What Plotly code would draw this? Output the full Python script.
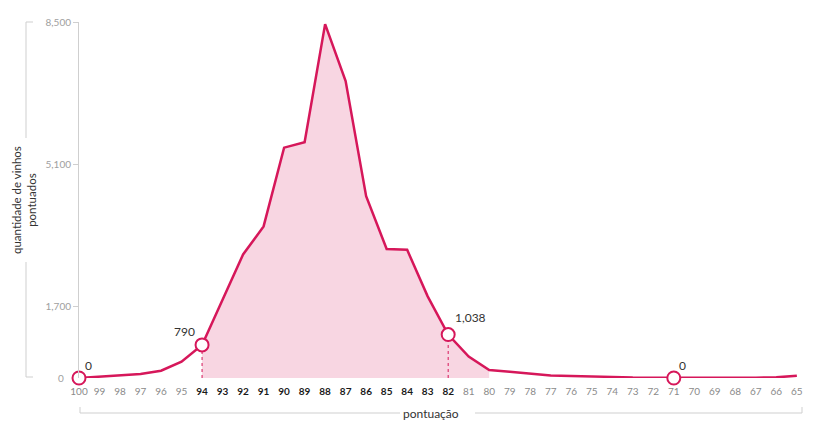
import plotly.graph_objects as go

# ---- data ----
scores = list(range(100, 64, -1))  # 100 .. 65
counts = [0, 30, 55, 95, 175, 390, 790, 1870, 2950, 3620, 5500, 5630, 8450, 7090,
          4340, 3080, 3060, 1950, 1038, 510, 190, 150, 110, 60, 50, 45, 25, 12, 8,
          0, 3, 3, 5, 8, 15, 55]
highlight_scores = [94, 93, 92, 91, 90, 89, 88, 87, 86, 85, 84, 83, 82]
fill_scores = list(range(94, 79, -1))  # 94 .. 80
marked_scores = [100, 94, 82, 71]
marked_labels = ["0", "790", "1,038", "0"]
y_ticks = [0, 1700, 5100, 8500]
y_ticktext = ["0", "1,700", "5,100", "8,500"]
y_title = "quantidade de vinhos<br>pontuados"
x_title = "pontuação"

PINK = "#d6175a"
FILL = "#f8d6e2"
FONT = "Lato"

val = dict(zip(scores, counts))

# page body has an 8px margin: work in screen pixels, convert to figure pixels
OFF = 8
SW, SH = 819, 426
W, H = SW - OFF, SH - OFF
# plot area in screen pixels
L, R, T, B = 79, 803, 22, 378

def xp(px):
    return (px - L) / (R - L)
def yp(py):
    return (B - py) / (B - T)

fig = go.Figure()

fig.add_trace(go.Scatter(
    x=fill_scores, y=[val[s] for s in fill_scores], mode="lines",
    line=dict(width=0), fill="tozeroy", fillcolor=FILL, hoverinfo="skip",
    showlegend=False))

for s in [94, 82]:
    fig.add_trace(go.Scatter(
        x=[s, s], y=[0, val[s]], mode="lines",
        line=dict(color=PINK, width=1, dash="dot"), showlegend=False,
        hoverinfo="skip"))

fig.add_trace(go.Scatter(
    x=scores, y=counts, mode="lines", line=dict(color=PINK, width=2.5),
    showlegend=False, cliponaxis=False))

fig.add_trace(go.Scatter(
    x=marked_scores, y=[val[s] for s in marked_scores], mode="markers",
    marker=dict(size=13, color="white", line=dict(color=PINK, width=2)),
    showlegend=False, cliponaxis=False))

offsets = {100: (4, 13, "left"), 94: (-18, 13, "center"), 82: (5, 17, "left"), 71: (3, 13, "left")}
for s, lab in zip(marked_scores, marked_labels):
    dx, dy, anc = offsets[s]
    fig.add_annotation(x=s, y=val[s], text=lab, showarrow=False,
                       xshift=dx, yshift=dy, xanchor=anc,
                       font=dict(family=FONT, size=12, color="#333"))

ticktext = []
for s in scores:
    if s in highlight_scores:
        ticktext.append(f"<b><span style='color:#1a1a1a'>{s}</span></b>")
    else:
        ticktext.append(str(s))

# y tick labels: the zero label sits further left (drawn separately)
y_ticktext_axis = ["" if v == 0 else t for v, t in zip(y_ticks, y_ticktext)]

fig.update_xaxes(
    range=[100, 64.7], tickmode="array", tickvals=scores, ticktext=ticktext,
    tickfont=dict(family=FONT, size=10, color="#8a8a8a"),
    showgrid=False, zeroline=False, showline=False, automargin=False,
    ticks="outside", ticklen=4, tickcolor="rgba(0,0,0,0)")
fig.update_yaxes(
    range=[0, 8500], tickmode="array", tickvals=y_ticks[1:], ticktext=y_ticktext_axis[1:],
    tickfont=dict(family=FONT, size=10, color="#a0a0a0"), automargin=False,
    showgrid=False, zeroline=False, showline=True, linecolor="#cfcfcf",
    linewidth=1, ticks="outside", ticklen=5, tickcolor="#cfcfcf")
fig.add_annotation(x=xp(66), xref="paper", y=y_ticks[0], yref="y", text=y_ticktext[0],
                   showarrow=False, xanchor="right", yanchor="middle",
                   font=dict(family=FONT, size=10, color="#a0a0a0"))

gray = dict(color="#cfcfcf", width=1)
shapes = [
    dict(x0=xp(80), x1=xp(80), y0=yp(407), y1=yp(413)),
    dict(x0=xp(80), x1=xp(400), y0=yp(413), y1=yp(413)),
    dict(x0=xp(475), x1=xp(802), y0=yp(413), y1=yp(413)),
    dict(x0=xp(802), x1=xp(802), y0=yp(407), y1=yp(413)),
    dict(x0=xp(26), x1=xp(33), y0=yp(22), y1=yp(22)),
    dict(x0=xp(26), x1=xp(26), y0=yp(22), y1=yp(138)),
    dict(x0=xp(26), x1=xp(26), y0=yp(262), y1=yp(377)),
    dict(x0=xp(26), x1=xp(33), y0=yp(377), y1=yp(377)),
]
for sh in shapes:
    fig.add_shape(type="line", xref="paper", yref="paper", line=gray, **sh)

fig.add_annotation(xref="paper", yref="paper", x=xp(431), y=yp(413),
                   text=x_title, showarrow=False, xanchor="center", yanchor="middle",
                   font=dict(family=FONT, size=12, color="#333"))
fig.add_annotation(xref="paper", yref="paper", x=xp(24), y=yp(200),
                   text=y_title, showarrow=False, textangle=-90,
                   xanchor="center", yanchor="middle",
                   font=dict(family=FONT, size=11.5, color="#333"))

fig.update_layout(
    width=W, height=H,
    margin=dict(l=L - OFF, r=SW - R, t=T - OFF, b=SH - B, autoexpand=False),
    paper_bgcolor="white", plot_bgcolor="white",
    font=dict(family=FONT),
)

fig.write_html("out.html")
